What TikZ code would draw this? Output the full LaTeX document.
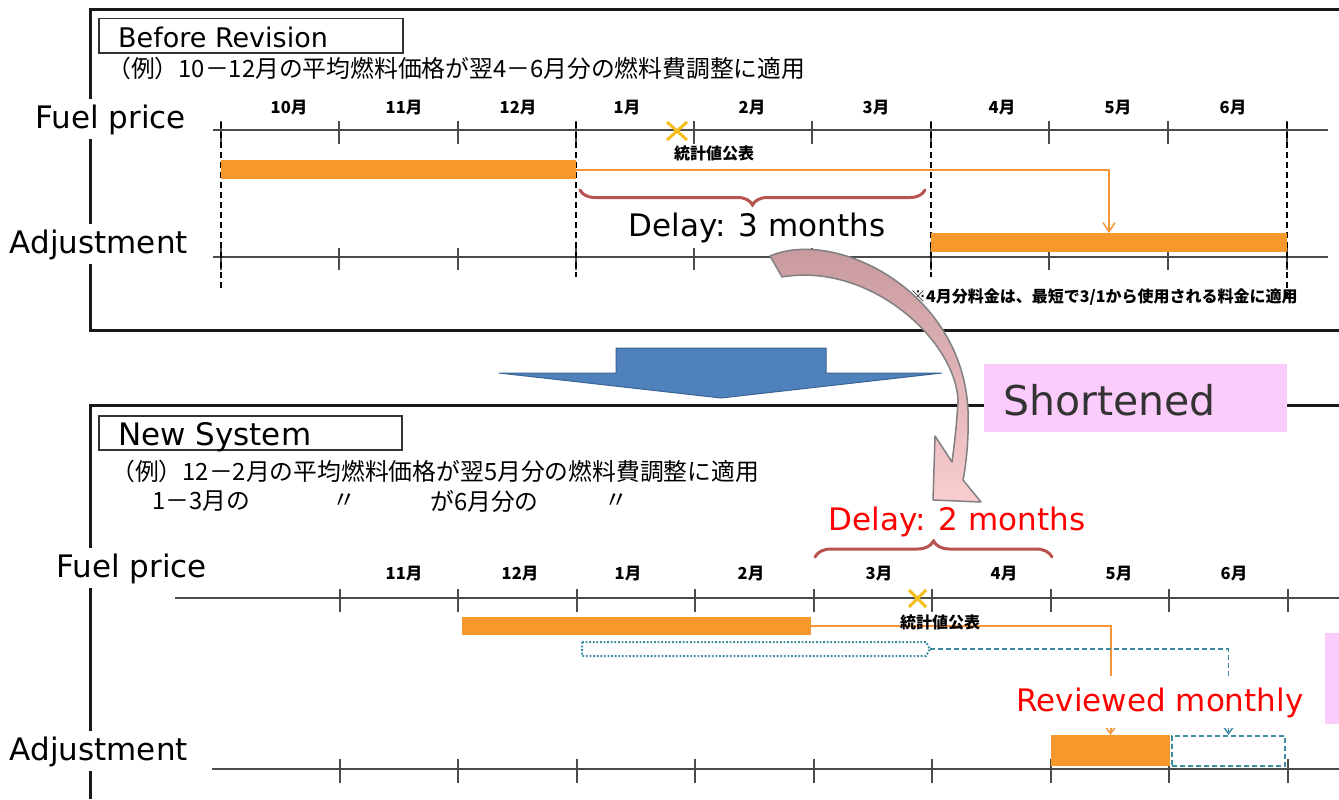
\documentclass[tikz,border=0pt]{standalone}
\usepackage{fontspec}
\setmainfont{DejaVu Sans}
\newfontfamily\jp{Noto Sans CJK JP}
\usetikzlibrary{arrows.meta,decorations.pathreplacing}
\definecolor{orC}{RGB}{247,152,45}
\definecolor{orL}{RGB}{246,150,55}
\definecolor{brC}{RGB}{184,84,80}
\definecolor{tlC}{RGB}{60,140,162}
\definecolor{blC}{RGB}{79,129,189}
\definecolor{blD}{RGB}{59,100,150}
\definecolor{pkC}{RGB}{251,203,251}
\definecolor{gdC}{RGB}{245,190,30}
\definecolor{axC}{RGB}{75,75,75}
\definecolor{mvC}{RGB}{196,150,155}
\definecolor{lpC}{RGB}{250,205,208}
\begin{document}
\begin{tikzpicture}[x=1bp,y=-1bp,
  frame/.style={draw=black!90, line width=3bp},
  axisln/.style={draw=axC, line width=2.5bp},
  titlebox/.style={draw=black!80, line width=1.5bp, inner sep=0pt},
  bigtxt/.style={font=\fontsize{31bp}{36bp}\selectfont, inner sep=0pt},
  sidelab/.style={font=\fontsize{31bp}{36bp}\selectfont, fill=white, inner sep=5bp},
  jpline/.style={font=\jp\fontsize{23.8bp}{27bp}\selectfont, inner sep=0pt, anchor=west},
  mlab/.style={font=\jp\bfseries\fontsize{16.5bp}{19bp}\selectfont, inner sep=0pt},
  smalljp/.style={font=\jp\bfseries\fontsize{16bp}{19bp}\selectfont, inner sep=0pt},
  obar/.style={fill=orC, draw=none, inner sep=0pt, outer sep=0pt},
  oline/.style={draw=orL, line width=2bp},
  tline/.style={draw=tlC, line width=1.6bp, dash pattern=on 5bp off 3bp},
  vdash/.style={draw=black, line width=1.2bp, dash pattern=on 6bp off 4bp},
  xmark/.style={draw=gdC, line width=3bp},
  bracest/.style={draw=brC, line width=3bp, line cap=round, decorate},
  redtxt/.style={font=\fontsize{31bp}{36bp}\selectfont, text=red, inner sep=0pt}
]
\useasboundingbox (0,0) rectangle (1339,799);
\fill[white] (0,0) rectangle (1339,799);

% ---------- frames ----------
\draw[frame] (1339,10) -- (90,10) -- (90,330) -- (1339,330);
\draw[frame] (1339,405) -- (90,405) -- (90,799);

% ---------- TOP PANEL ----------
\node[titlebox, minimum width=304bp, minimum height=34bp, anchor=north west, fill=white] (t1box) at (98,18) {};
\node[font=\fontsize{27bp}{30bp}\selectfont, inner sep=0pt, anchor=base west] (t1) at (118,48) {Before Revision};
\node[jpline] (ex1) at (107,68) {（例）10－12月の平均燃料価格が翌4－6月分の燃料費調整に適用};

\node[sidelab, anchor=base east] (fp1) at (191,128) {Fuel price};
\node[sidelab, anchor=base east] (ad1) at (193,253) {Adjustment};

% axes
\draw[axisln] (213,130) -- (1328,130);
\draw[axisln] (213,257) -- (1328,257);
\foreach \x in {221,339,458,576,694,812,931,1049,1168,1287}{
  \draw[axisln] (\x,121) -- (\x,144);
  \draw[axisln] (\x,248) -- (\x,270);
}
\foreach \x/\m [count=\i] in {289/10,404/11,518/12,627/1,752/2,876/3,1002/4,1118/5,1233/6}
  \node[mlab] (mt\i) at (\x,108) {\m 月};

% dashed verticals
\draw[vdash] (221,122) -- (221,288);
\draw[vdash] (576,122) -- (576,277);
\draw[vdash] (931,122) -- (931,277);
\draw[vdash] (1287,122) -- (1287,298);

% bars
\node[obar, minimum width=355bp, minimum height=19bp] (fbar1) at (398.5,169.5) {};
\node[obar, minimum width=356bp, minimum height=19bp] (abar1) at (1109,242.5) {};
\draw[oline, -{Straight Barb[length=9bp,width=12bp,line width=1.5bp]}] (fbar1.east) -| (abar1.north);

% statistic mark
\draw[xmark] (667,122) -- (687,140) (687,122) -- (667,140);
\node[smalljp] (st1) at (714,153) {統計値公表};

% brace
\draw[bracest, decoration={brace, amplitude=15bp}] (925,190) -- (580,190);
\node[bigtxt, anchor=base] (d3) at (757,236) {Delay: 3 months};

\node[smalljp, anchor=west] (note) at (910,297) {※4月分料金は、最短で3/1から使用される料金に適用};

% ---------- BLUE ARROW ----------
\filldraw[fill=blC, draw=blD, line width=1bp] (616,348) -- (826,348) -- (826,373) -- (942,373) -- (721,398) -- (499,373) -- (616,373) -- cycle;

% ---------- BOTTOM PANEL ----------
\node[titlebox, minimum width=303bp, minimum height=34bp, anchor=north west, fill=white] (t2box) at (98,415) {};
\node[bigtxt, anchor=base west] (t2) at (118,445) {New System};
\node[jpline] (ex2) at (111,471) {（例）12－2月の平均燃料価格が翌5月分の燃料費調整に適用};
\node[jpline] (ex3a) at (152,501) {1－3月の};
\node[jpline] (ex3b) at (332,501) {〃};
\node[jpline] (ex3c) at (430,501) {が6月分の};
\node[jpline] (ex3d) at (604,501) {〃};

\node[sidelab, anchor=base east] (fp2) at (212,577) {Fuel price};
\node[sidelab, anchor=base east] (ad2) at (193,760) {Adjustment};

\draw[axisln] (175,598) -- (1339,598);
\draw[axisln] (212,769) -- (1339,769);
\foreach \x in {340,458,577,695,814,932,1051,1169,1288}{
  \draw[axisln] (\x,589) -- (\x,612);
  \draw[axisln] (\x,759) -- (\x,783);
}
\foreach \x/\m [count=\i] in {404/11,520/12,628/1,751/2,879/3,1004/4,1119/5,1234/6}
  \node[mlab] (mb\i) at (\x,574) {\m 月};

% brace + delay 2
\draw[bracest, decoration={brace, amplitude=16bp}] (815,557) -- (1052,557);
\node[redtxt, anchor=base, fill=white, inner ysep=3bp] (d2) at (957,530) {Delay: 2 months};

% bars
\node[obar, minimum width=349bp, minimum height=18bp] (fbar2) at (636.5,626) {};
\draw[draw=tlC, line width=2bp, dash pattern=on 1.8bp off 1.8bp] (582,642) -- (926,642) -- (930,649) -- (926,656) -- (582,656) -- cycle;
\coordinate (dtip) at (930,649);
\node[obar, minimum width=119bp, minimum height=31bp] (abar2) at (1110.5,750.5) {};
\node[draw=tlC, line width=2bp, dash pattern=on 5bp off 3bp, minimum width=113bp, minimum height=30bp, inner sep=0pt] (dbox) at (1228.5,751) {};

\draw[oline, -{Straight Barb[length=7bp,width=10bp,line width=1.5bp]}] (fbar2.east) -| (abar2.north);
\draw[tline, -{Straight Barb[length=7bp,width=10bp,line width=1.5bp]}] (dtip) -| (dbox.north);

\draw[xmark] (909,590) -- (926,607) (926,590) -- (909,607);
\node[smalljp] (st2) at (940,622) {統計値公表};

\node[redtxt, anchor=base, fill=white, minimum height=52bp, inner xsep=2bp] (rm) at (1160,711) {Reviewed monthly};
\fill[pkC] (1325,633) rectangle (1339,724);

% ---------- SHORTENED ----------
\node[fill=pkC, minimum width=303bp, minimum height=68bp, anchor=north west, inner sep=0pt] (shbox) at (984,364) {};
\node[font=\fontsize{41bp}{46bp}\selectfont, text=black!80, inner sep=0pt, anchor=base west] (sh) at (1003,415) {Shortened};

% ---------- CURVED ARROW ----------
\shadedraw[top color=mvC, bottom color=lpC, draw=gray, line width=1.5bp, line join=round]
  (770,256) .. controls (835,228) and (962,290) .. (968,410)
  .. controls (969,440) and (966,465) .. (963,480)
  -- (981,502) -- (933,500) -- (935,436) -- (952,462)
  .. controls (955,440) and (957,420) .. (958,400)
  .. controls (955,340) and (870,262) .. (782,277) -- cycle;
\end{tikzpicture}
\end{document}
